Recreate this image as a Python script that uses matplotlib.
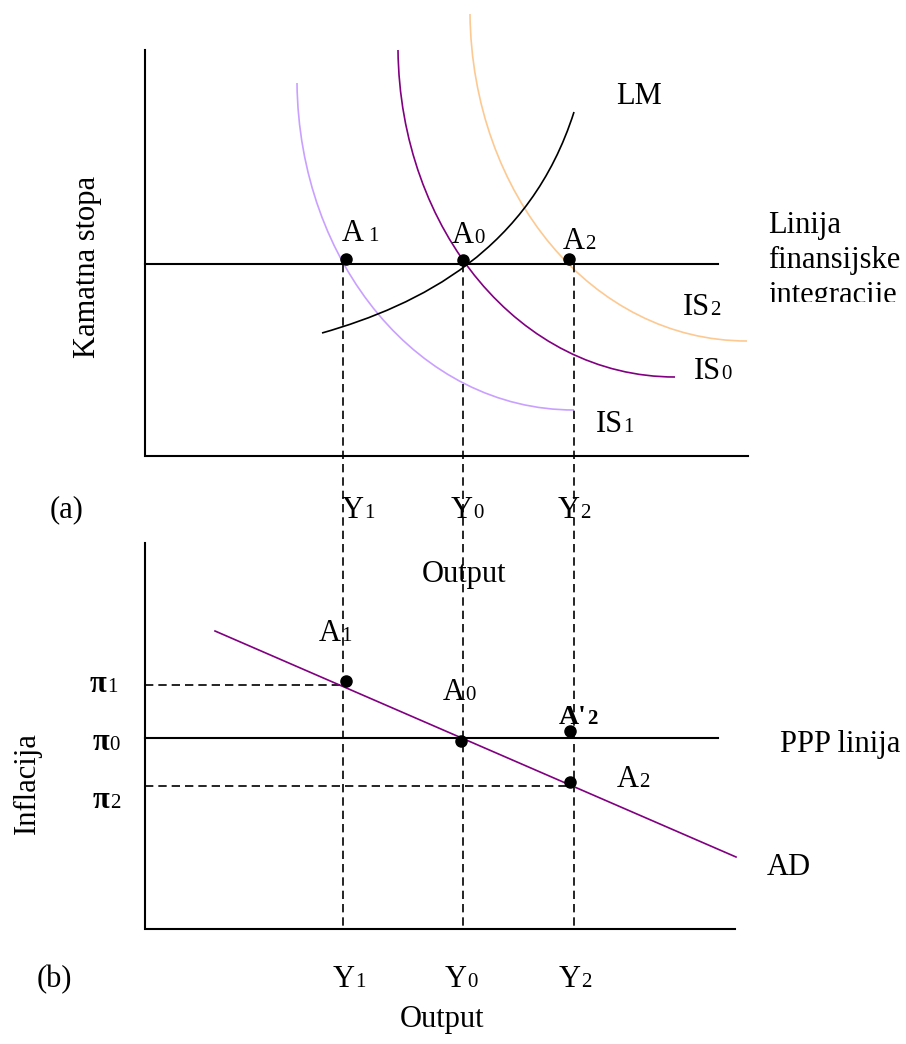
import matplotlib
matplotlib.use("Agg")
import matplotlib.pyplot as plt
from matplotlib.path import Path
from matplotlib.patches import PathPatch
from matplotlib.transforms import Bbox, TransformedBbox

# ---------------- data (diagram coordinates, y grows downward) ----------------
# output levels (x positions of Y1, Y0, Y2)
y_levels = [343, 463, 574]
y_names = ["Y", "Y", "Y"]
y_subs = ["1", "0", "2"]

# top panel (IS-LM)
top_axis_x = 145
top_axis_ytop = 50
top_axis_ybot = 456
top_axis_xend = 748
fin_rate = 264          # line of financial integration
fin_xend = 718

lm_ctrl_x = [322, 420, 530, 574]
lm_ctrl_y = [333, 305, 250, 112]
is0_ctrl_x = [398, 400, 520, 675]
is0_ctrl_y = [50, 230, 377, 377]
is1_ctrl_x = [297, 299, 419, 574]
is1_ctrl_y = [83, 263, 410, 410]
is2_ctrl_x = [470, 472, 592, 747]
is2_ctrl_y = [14, 194, 341, 341]

top_pts_x = [346, 463, 569]
top_pts_y = [259, 260, 259]

# bottom panel (inflation / AD)
bot_axis_ytop = 543
bot_axis_ybot = 929
bot_axis_xend = 735
pi_levels = [685, 738, 786]      # pi1, pi0, pi2
pi_subs = ["1", "0", "2"]
ppp_xend = 718
ad_x = [215, 736]
ad_y = [631, 857]
bot_pts_x = [346, 461, 570, 570]
bot_pts_y = [681, 741, 731, 782]

# colours
C_IS0 = "#800080"
C_IS1 = "#c9a0ff"
C_IS2 = "#fdc992"
C_AD = "#800080"

FONT = "Liberation Serif"
FS = 22
SFS = 15

fig = plt.figure(figsize=(9.06, 10.44), dpi=100)
ax = fig.add_axes([0, 0, 1, 1])
ax.set_xlim(0, 906)
ax.set_ylim(1044, 0)
ax.axis("off")
renderer = fig.canvas.get_renderer()

LW_AX = 1.5
LW_C = 1.2
DASH = (0, (5, 3))


def bez(xs, ys, color, lw=LW_C):
    verts = list(zip(xs, ys))
    codes = [Path.MOVETO, Path.CURVE4, Path.CURVE4, Path.CURVE4]
    ax.add_patch(PathPatch(Path(verts, codes), facecolor="none",
                           edgecolor=color, lw=lw))


def label(x, y, main, sub=None, size=FS, subsize=SFS, weight="normal",
          subweight=None, gap=0.0):
    t = ax.text(x, y, main, fontsize=size, family=FONT, va="baseline",
                ha="left", fontweight=weight)
    if sub is not None:
        bb = t.get_window_extent(renderer)
        xd = ax.transData.inverted().transform((bb.x1, bb.y0))[0]
        ax.text(xd + gap, y, sub, fontsize=subsize, family=FONT,
                va="baseline", ha="left",
                fontweight=weight if subweight is None else subweight)
    return t


# ---------------- top panel ----------------
ax.plot([top_axis_x, top_axis_x, top_axis_xend],
        [top_axis_ytop, top_axis_ybot, top_axis_ybot], color="black", lw=LW_AX,
        solid_joinstyle="miter")
ax.plot([top_axis_x, fin_xend], [fin_rate, fin_rate], color="black", lw=LW_AX)

bez(is1_ctrl_x, is1_ctrl_y, C_IS1)
bez(is2_ctrl_x, is2_ctrl_y, C_IS2)
bez(is0_ctrl_x, is0_ctrl_y, C_IS0)
bez(lm_ctrl_x, lm_ctrl_y, "black")

# dashed verticals through both panels
for xv in y_levels:
    ax.plot([xv, xv], [fin_rate, bot_axis_ybot], color="black", lw=1.2,
            linestyle=DASH)

ax.plot(top_pts_x, top_pts_y, "o", color="black", ms=8)

label(616, 104, "LM")
label(768, 233, "Linija")
label(768, 268, "finansijske")
t_int = label(768, 303, "integracije")
t_int.set_clip_box(TransformedBbox(Bbox([[700, 200], [906, 302]]),
                                   ax.transData))
t_int.set_clip_on(True)

label(683, 315, "IS", "2")
label(694, 379, "IS", "0")
label(596, 432, "IS", "1")

label(342, 241, "A", "1", gap=4)
label(452, 243, "A", "0")
label(563, 249, "A", "2")

ax.text(88, 267, "Kamatna stopa", fontsize=FS, family=FONT, rotation=90,
        ha="center", va="center")
ax.text(50, 510, "(a)", fontsize=FS, family=FONT, ha="left", va="center")

for xl, nm, sb in zip([342, 451, 558], y_names, y_subs):
    label(xl, 518, nm, sb)
label(422, 582, "Output")

# ---------------- bottom panel ----------------
ax.plot([top_axis_x, top_axis_x, bot_axis_xend],
        [bot_axis_ytop, bot_axis_ybot, bot_axis_ybot], color="black", lw=LW_AX,
        solid_joinstyle="miter")
ax.plot([top_axis_x, ppp_xend], [pi_levels[1], pi_levels[1]], color="black",
        lw=LW_AX)
ax.plot([top_axis_x, y_levels[0]], [pi_levels[0], pi_levels[0]], color="black",
        lw=1.2, linestyle=DASH)
ax.plot([top_axis_x, y_levels[2]], [pi_levels[2], pi_levels[2]], color="black",
        lw=1.2, linestyle=DASH)

ax.plot(ad_x, ad_y, color=C_AD, lw=LW_C)
ax.plot(bot_pts_x, bot_pts_y, "o", color="black", ms=8)

label(319, 641, "A", "1")
label(443, 700, "A", "0")
label(559, 724, "A'", "2", size=20, subsize=15, weight="bold")
label(617, 787, "A", "2")
label(780, 752, "PPP linija")
label(767, 875, "AD")

for yb, sb, xl in zip([692, 750, 808], pi_subs, [90, 93, 93]):
    label(xl, yb, "\u03c0", sb, weight="bold", subweight="normal")

ax.text(27, 783, "Inflacija", fontsize=FS, family=FONT, rotation=90,
        ha="center", va="center")
ax.text(37, 980, "(b)", fontsize=FS, family=FONT, ha="left", va="center")

for xl, nm, sb in zip([333, 445, 559], y_names, y_subs):
    label(xl, 987, nm, sb)
label(400, 1027, "Output")

fig.savefig("out.png", dpi=100)
